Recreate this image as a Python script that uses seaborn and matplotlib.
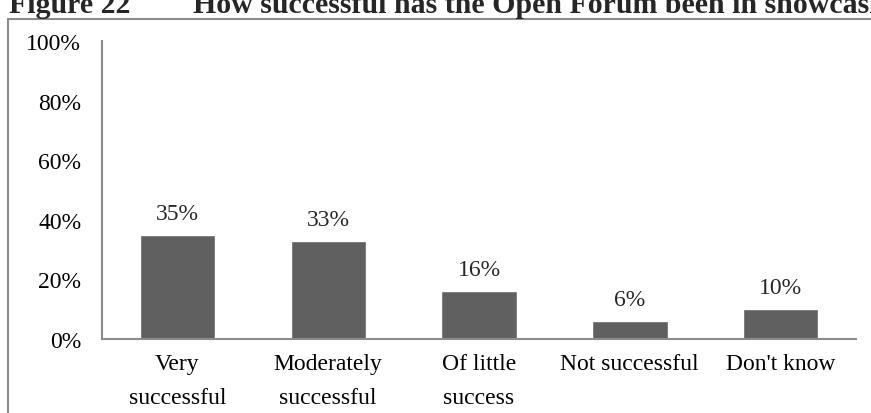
import matplotlib
matplotlib.use("Agg")
import matplotlib.pyplot as plt
from matplotlib.patches import Rectangle
from matplotlib.ticker import FuncFormatter
import seaborn as sns
import pandas as pd

categories = ["Very\nsuccessful", "Moderately\nsuccessful", "Of little\nsuccess",
              "Not successful", "Don't know"]
shares = [35, 33, 16, 6, 10]
y_ticks = [0, 20, 40, 60, 80, 100]

sns.set_style("white")
plt.rcParams["font.family"] = ["Liberation Serif", "DejaVu Serif"]

df = pd.DataFrame({"category": categories, "share": shares})

W, H = 871, 414
fig = plt.figure(figsize=(W / 100, H / 100), dpi=100)
ax = fig.add_axes([102 / W, 1 - 340 / H, (856 - 102) / W, (340 - 42) / H])

sns.barplot(data=df, x="category", y="share", color="#606060", saturation=1,
            width=0.5, ax=ax)

ax.set_ylim(0, 100)
ax.set_yticks(y_ticks)
ax.yaxis.set_major_formatter(FuncFormatter(lambda v, _: f"{v:.0f}%"))
ax.set_xlabel("")
ax.set_ylabel("")
ax.tick_params(axis="both", length=0, labelsize=17, colors="black")
ax.tick_params(axis="y", pad=15)
ax.tick_params(axis="x", pad=10)
for lbl in ax.get_xticklabels():
    lbl.set_linespacing(1.8)

for side in ("top", "right"):
    ax.spines[side].set_visible(False)
for side in ("left", "bottom"):
    ax.spines[side].set_color("#8c8c8c")
    ax.spines[side].set_linewidth(1.5)

ax.bar_label(ax.containers[0], labels=[f"{v}%" for v in shares],
             padding=8, fontsize=17)

# Surrounding frame of the figure panel
fig.patches.append(Rectangle((8 / W, -0.2), 1.2, 0.2 + (1 - 20 / H),
                             transform=fig.transFigure, fill=False,
                             edgecolor="#8c8c8c", linewidth=1.5, clip_on=False))

fig.text(9 / W, 1 - 13 / H, "Figure 22", fontsize=21.5, fontweight="bold",
         va="baseline", ha="left")
fig.text(193 / W, 1 - 13 / H,
         "How successful has the Open Forum been in showcasing",
         fontsize=21.5, fontweight="bold", va="baseline", ha="left")

fig.savefig("out.png", dpi=100)
